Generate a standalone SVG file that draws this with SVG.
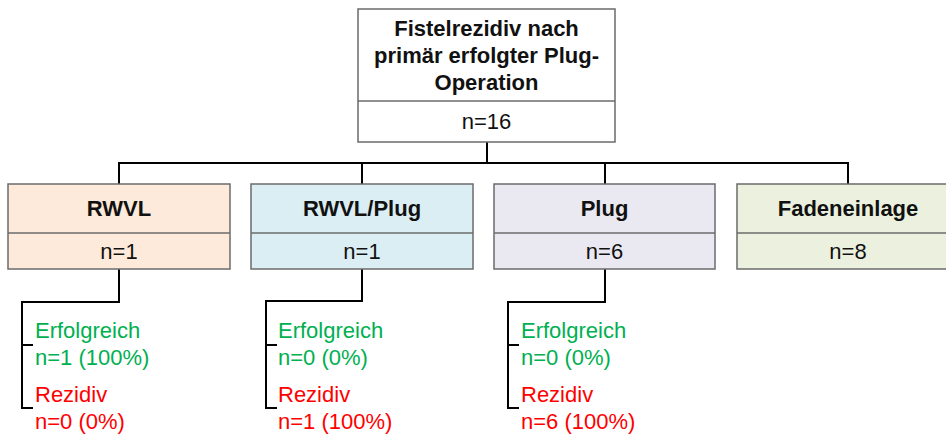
<svg xmlns="http://www.w3.org/2000/svg" width="946" height="434" viewBox="0 0 946 434">
  <style>
    .box { stroke: #6b6b6b; stroke-width: 1.5; }
    .div { stroke: #6b6b6b; stroke-width: 1.5; fill: none; }
    .title { font-family: "Liberation Sans", Arial, sans-serif; font-size: 22px; font-weight: bold; fill: #111; text-anchor: middle; }
    .count { font-family: "Liberation Sans", Arial, sans-serif; font-size: 22px; fill: #111; text-anchor: middle; }
    .ok { font-family: "Liberation Sans", Arial, sans-serif; font-size: 22px; fill: #00B050; }
    .rz { font-family: "Liberation Sans", Arial, sans-serif; font-size: 22px; fill: #FF0000; }
    .wire { stroke: #000; stroke-width: 2; fill: none; }
  </style>
  <rect width="946" height="434" fill="#ffffff"/>

  <!-- connectors -->
  <g id="connectors">
    <path class="wire" d="M487 142 V163 M119 184 V163 H848 V184 M362 163 V184 M605 163 V184"/>
    <path class="wire" d="M119 269 V302 H22 V408 H33 M22 345 H33"/>
    <path class="wire" d="M362 269 V301 H266 V408 H277 M266 345 H277"/>
    <path class="wire" d="M605 269 V302 H508 V408 H519 M508 345 H519"/>
  </g>

  <!-- root node -->
  <g id="root">
    <rect class="box" x="358" y="9" width="257" height="133" fill="#ffffff"/>
    <line class="div" x1="358" y1="101" x2="615" y2="101"/>
    <text class="title" x="486.5" y="36">Fistelrezidiv nach</text>
    <text class="title" x="486.5" y="63">primär erfolgter Plug-</text>
    <text class="title" x="486.5" y="90">Operation</text>
    <text class="count" x="486.5" y="129">n=16</text>
  </g>

  <g id="rwvl">
    <rect class="box" x="8" y="184" width="222" height="85" fill="#FDEADA"/>
    <line class="div" x1="8" y1="233" x2="230" y2="233"/>
    <text class="title" x="119" y="216">RWVL</text>
    <text class="count" x="119" y="259">n=1</text>
  </g>

  <g id="rwvl-plug">
    <rect class="box" x="251" y="184" width="222" height="85" fill="#DAEEF3"/>
    <line class="div" x1="251" y1="233" x2="473" y2="233"/>
    <text class="title" x="362" y="216">RWVL/Plug</text>
    <text class="count" x="362" y="259">n=1</text>
  </g>

  <g id="plug">
    <rect class="box" x="494" y="184" width="221" height="85" fill="#EAE8F1"/>
    <line class="div" x1="494" y1="233" x2="715" y2="233"/>
    <text class="title" x="604.5" y="216">Plug</text>
    <text class="count" x="604.5" y="259">n=6</text>
  </g>

  <g id="fadeneinlage">
    <rect class="box" x="737" y="184" width="222" height="85" fill="#EBF1DE"/>
    <line class="div" x1="737" y1="233" x2="959" y2="233"/>
    <text class="title" x="848" y="216">Fadeneinlage</text>
    <text class="count" x="848" y="259">n=8</text>
  </g>

  <!-- outcomes -->
  <g id="rwvl-outcome">
    <text class="ok" x="35" y="338">Erfolgreich</text>
    <text class="ok" x="35" y="365">n=1 (100%)</text>
    <text class="rz" x="35" y="402">Rezidiv</text>
    <text class="rz" x="35" y="429">n=0 (0%)</text>
  </g>
  <g id="rwvl-plug-outcome">
    <text class="ok" x="278" y="338">Erfolgreich</text>
    <text class="ok" x="278" y="365">n=0 (0%)</text>
    <text class="rz" x="278" y="402">Rezidiv</text>
    <text class="rz" x="278" y="429">n=1 (100%)</text>
  </g>
  <g id="plug-outcome">
    <text class="ok" x="521" y="338">Erfolgreich</text>
    <text class="ok" x="521" y="365">n=0 (0%)</text>
    <text class="rz" x="521" y="402">Rezidiv</text>
    <text class="rz" x="521" y="429">n=6 (100%)</text>
  </g>
</svg>
